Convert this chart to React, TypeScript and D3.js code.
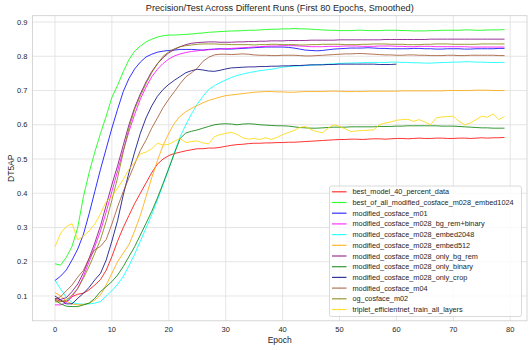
import * as d3 from "d3";
import React from "react";

// run names, in plotting order
const runs = [
  "best_model_40_percent_data",
  "best_of_all_modified_cosface_m028_embed1024",
  "modified_cosface_m01",
  "modified_cosface_m028_bg_rem+binary",
  "modified_cosface_m028_embed2048",
  "modified_cosface_m028_embed512",
  "modified_cosface_m028_only_bg_rem",
  "modified_cosface_m028_only_binary",
  "modified_cosface_m028_only_crop",
  "modified_cosface_m04",
  "og_cosface_m02",
  "triplet_efficientnet_train_all_layers",
];

const colors = [
  "red", "lime", "blue", "magenta", "cyan", "orange",
  "purple", "green", "navy", "sienna", "olive", "gold",
];

const xTicks = [0, 10, 20, 30, 40, 50, 60, 70, 80];
const yTicks = [0.1, 0.2, 0.3, 0.4, 0.5, 0.6, 0.7, 0.8, 0.9];

// smoothed DT5AP per epoch
const best40 = [
  0.09, 0.085, 0.084, 0.098, 0.105, 0.108, 0.118, 0.132, 0.148, 0.175,
  0.215, 0.26, 0.3, 0.335, 0.37, 0.4, 0.43, 0.46, 0.485, 0.5,
  0.51, 0.516, 0.52, 0.524, 0.527, 0.53, 0.53, 0.532, 0.532, 0.534,
  0.537, 0.54, 0.542, 0.543, 0.545, 0.546, 0.546, 0.547, 0.547, 0.548,
  0.548, 0.549, 0.549, 0.55, 0.551, 0.552, 0.553, 0.554, 0.555, 0.556,
  0.557, 0.557, 0.558, 0.558, 0.557, 0.558, 0.559, 0.559, 0.558, 0.559,
  0.56, 0.56, 0.559, 0.56, 0.561, 0.56, 0.56, 0.561, 0.561, 0.56,
  0.56, 0.561, 0.561, 0.56, 0.561, 0.562, 0.561, 0.562, 0.562, 0.563,
];
const bestOfAll = [
  0.194, 0.19, 0.213, 0.245, 0.3, 0.39, 0.46, 0.52, 0.575, 0.625,
  0.68, 0.715, 0.755, 0.79, 0.815, 0.83, 0.842, 0.85, 0.856, 0.86,
  0.862, 0.862, 0.863, 0.864, 0.865, 0.867, 0.868, 0.87, 0.871, 0.872,
  0.873, 0.874, 0.874, 0.875, 0.876, 0.876, 0.877, 0.878, 0.879, 0.879,
  0.88, 0.88, 0.881, 0.88, 0.88, 0.879, 0.878, 0.877, 0.876, 0.876,
  0.875, 0.875, 0.875, 0.876, 0.876, 0.875, 0.875, 0.875, 0.876, 0.876,
  0.876, 0.875, 0.875, 0.874, 0.874, 0.874, 0.875, 0.875, 0.876, 0.876,
  0.876, 0.876, 0.877, 0.877, 0.876, 0.876, 0.877, 0.877, 0.877, 0.878,
];
const m01 = [
  0.145, 0.158, 0.176, 0.205, 0.237, 0.28, 0.34, 0.405, 0.47, 0.53,
  0.59, 0.645, 0.697, 0.735, 0.763, 0.783, 0.798, 0.806, 0.812, 0.815,
  0.817, 0.818, 0.82, 0.82, 0.82, 0.819, 0.818, 0.82, 0.821, 0.822,
  0.821, 0.821, 0.822, 0.823, 0.824, 0.825, 0.826, 0.827, 0.827, 0.827,
  0.827, 0.826, 0.824, 0.821, 0.818, 0.817, 0.816, 0.817, 0.819, 0.821,
  0.822, 0.823, 0.824, 0.824, 0.824, 0.825, 0.824, 0.823, 0.823, 0.822,
  0.822, 0.822, 0.822, 0.823, 0.823, 0.822, 0.822, 0.821, 0.821, 0.822,
  0.822, 0.822, 0.821, 0.821, 0.822, 0.822, 0.822, 0.822, 0.823, 0.823,
];
const bgRemBinary = [
  0.074, 0.074, 0.08, 0.098, 0.122, 0.157, 0.2, 0.244, 0.29, 0.345,
  0.405, 0.465, 0.525, 0.58, 0.63, 0.675, 0.71, 0.74, 0.762, 0.779,
  0.792, 0.801, 0.807, 0.811, 0.814, 0.816, 0.818, 0.819, 0.82, 0.821,
  0.822, 0.823, 0.824, 0.825, 0.826, 0.827, 0.828, 0.829, 0.83, 0.83,
  0.831, 0.831, 0.831, 0.83, 0.829, 0.828, 0.828, 0.828, 0.829, 0.829,
  0.829, 0.83, 0.83, 0.83, 0.829, 0.829, 0.829, 0.83, 0.83, 0.83,
  0.829, 0.829, 0.828, 0.828, 0.829, 0.829, 0.829, 0.828, 0.828, 0.828,
  0.828, 0.828, 0.828, 0.827, 0.827, 0.827, 0.827, 0.827, 0.827, 0.827,
];
const embed2048 = [
  0.146, 0.12, 0.096, 0.081, 0.077, 0.076, 0.077, 0.079, 0.084, 0.1,
  0.115, 0.134, 0.157, 0.188, 0.222, 0.26, 0.298, 0.337, 0.38, 0.425,
  0.47, 0.52, 0.565, 0.6, 0.632, 0.66, 0.683, 0.703, 0.714, 0.723,
  0.731, 0.738, 0.744, 0.748, 0.752, 0.755, 0.758, 0.76, 0.762, 0.765,
  0.768, 0.77, 0.771, 0.772, 0.773, 0.774, 0.775, 0.776, 0.777, 0.778,
  0.779, 0.78, 0.78, 0.781, 0.781, 0.782, 0.782, 0.782, 0.782, 0.783,
  0.783, 0.782, 0.782, 0.781, 0.781, 0.78, 0.78, 0.781, 0.782, 0.782,
  0.783, 0.783, 0.784, 0.784, 0.783, 0.783, 0.782, 0.782, 0.782, 0.782,
];
const embed512 = [
  0.11, 0.1, 0.085, 0.077, 0.074, 0.075, 0.079, 0.088, 0.103, 0.132,
  0.166, 0.2, 0.225, 0.25, 0.29, 0.335, 0.39, 0.445, 0.495, 0.54,
  0.575, 0.605, 0.625, 0.638, 0.648, 0.656, 0.664, 0.671, 0.676, 0.681,
  0.685, 0.687, 0.689, 0.691, 0.693, 0.695, 0.696, 0.697, 0.697, 0.696,
  0.696, 0.695, 0.695, 0.696, 0.697, 0.697, 0.697, 0.697, 0.698, 0.698,
  0.698, 0.697, 0.697, 0.697, 0.697, 0.698, 0.698, 0.698, 0.698, 0.698,
  0.698, 0.699, 0.699, 0.699, 0.699, 0.699, 0.699, 0.699, 0.699, 0.7,
  0.7, 0.7, 0.7, 0.7, 0.701, 0.701, 0.701, 0.7, 0.7, 0.7,
];
const onlyBgRem = [
  0.093, 0.09, 0.095, 0.113, 0.135, 0.168, 0.21, 0.255, 0.305, 0.365,
  0.425, 0.48, 0.54, 0.6, 0.65, 0.69, 0.725, 0.755, 0.778, 0.796,
  0.81, 0.82, 0.828, 0.834, 0.838, 0.84, 0.841, 0.842, 0.842, 0.841,
  0.841, 0.841, 0.842, 0.842, 0.843, 0.843, 0.844, 0.844, 0.845, 0.845,
  0.845, 0.846, 0.846, 0.846, 0.846, 0.847, 0.847, 0.847, 0.847, 0.847,
  0.848, 0.848, 0.848, 0.848, 0.848, 0.848, 0.848, 0.848, 0.849, 0.849,
  0.849, 0.849, 0.849, 0.849, 0.849, 0.849, 0.85, 0.85, 0.85, 0.85,
  0.85, 0.85, 0.85, 0.85, 0.85, 0.85, 0.85, 0.85, 0.85, 0.85,
];
const onlyBinary = [
  0.088, 0.077, 0.07, 0.069, 0.069, 0.074, 0.079, 0.093, 0.113, 0.127,
  0.142, 0.161, 0.186, 0.215, 0.244, 0.278, 0.312, 0.347, 0.386, 0.429,
  0.473, 0.517, 0.56, 0.576, 0.581, 0.585, 0.59, 0.595, 0.6, 0.602,
  0.603, 0.602, 0.6, 0.602, 0.603, 0.602, 0.6, 0.599, 0.598, 0.597,
  0.597, 0.596, 0.594, 0.592, 0.591, 0.59, 0.59, 0.591, 0.592, 0.593,
  0.593, 0.593, 0.594, 0.594, 0.594, 0.594, 0.594, 0.595, 0.595, 0.595,
  0.596, 0.596, 0.597, 0.597, 0.597, 0.597, 0.597, 0.597, 0.596, 0.596,
  0.596, 0.595, 0.594, 0.593, 0.592, 0.591, 0.591, 0.59, 0.59, 0.59,
];
// this run stops at epoch 60
const onlyCrop = [
  0.1, 0.088, 0.077, 0.077, 0.093, 0.108, 0.125, 0.147, 0.166, 0.205,
  0.26, 0.32, 0.395, 0.46, 0.52, 0.575, 0.62, 0.655, 0.683, 0.703,
  0.718, 0.73, 0.741, 0.752, 0.758, 0.762, 0.76, 0.757, 0.756, 0.759,
  0.763, 0.766, 0.767, 0.768, 0.769, 0.769, 0.77, 0.77, 0.771, 0.771,
  0.772, 0.772, 0.773, 0.773, 0.774, 0.775, 0.775, 0.775, 0.776, 0.776,
  0.777, 0.777, 0.777, 0.777, 0.777, 0.777, 0.777, 0.776, 0.776, 0.776,
  0.777,
];
const m04 = [
  0.09, 0.098, 0.115, 0.132, 0.155, 0.175, 0.21, 0.235, 0.245, 0.265,
  0.31, 0.36, 0.405, 0.445, 0.485, 0.525, 0.555, 0.59, 0.62, 0.65,
  0.675, 0.697, 0.72, 0.74, 0.752, 0.765, 0.785, 0.797, 0.804, 0.806,
  0.806, 0.805, 0.806, 0.807, 0.806, 0.804, 0.803, 0.803, 0.802, 0.802,
  0.803, 0.803, 0.803, 0.802, 0.801, 0.801, 0.802, 0.803, 0.804, 0.805,
  0.806, 0.807, 0.807, 0.808, 0.808, 0.807, 0.806, 0.805, 0.804, 0.804,
  0.803, 0.803, 0.804, 0.804, 0.803, 0.803, 0.802, 0.802, 0.802, 0.803,
  0.803, 0.802, 0.802, 0.803, 0.803, 0.803, 0.803, 0.803, 0.802, 0.802,
];
const ogM02 = [
  0.083, 0.083, 0.088, 0.103, 0.122, 0.152, 0.186, 0.225, 0.265, 0.318,
  0.38, 0.445, 0.52, 0.59, 0.645, 0.685, 0.72, 0.752, 0.778, 0.8,
  0.813, 0.822, 0.828, 0.831, 0.833, 0.835, 0.836, 0.836, 0.836, 0.835,
  0.835, 0.834, 0.834, 0.834, 0.834, 0.833, 0.834, 0.834, 0.835, 0.835,
  0.834, 0.834, 0.834, 0.833, 0.833, 0.834, 0.834, 0.835, 0.835, 0.835,
  0.835, 0.834, 0.834, 0.834, 0.835, 0.835, 0.836, 0.836, 0.836, 0.835,
  0.835, 0.835, 0.834, 0.834, 0.834, 0.835, 0.835, 0.836, 0.836, 0.836,
  0.835, 0.835, 0.835, 0.835, 0.835, 0.836, 0.836, 0.836, 0.836, 0.836,
];
const triplet = [
  0.244, 0.283, 0.303, 0.311, 0.264, 0.275, 0.29, 0.31, 0.34, 0.376,
  0.39, 0.415, 0.44, 0.47, 0.49, 0.515, 0.52, 0.53, 0.546, 0.541,
  0.543, 0.552, 0.56, 0.548, 0.551, 0.553, 0.547, 0.544, 0.565, 0.571,
  0.575, 0.578, 0.572, 0.562, 0.558, 0.56, 0.557, 0.562, 0.557, 0.563,
  0.571, 0.577, 0.583, 0.592, 0.595, 0.586, 0.58, 0.577, 0.59, 0.6,
  0.595, 0.588, 0.58, 0.582, 0.583, 0.584, 0.585, 0.6, 0.605, 0.608,
  0.613, 0.615, 0.616, 0.61, 0.615, 0.608, 0.6, 0.62, 0.623, 0.624,
  0.625, 0.61, 0.6, 0.605, 0.615, 0.625, 0.622, 0.632, 0.615, 0.624,
];

const series = [
  best40, bestOfAll, m01, bgRemBinary, embed2048, embed512,
  onlyBgRem, onlyBinary, onlyCrop, m04, ogM02, triplet,
];

const W = 530;
const H = 350;
const left = 32.5, right = 527, top = 15.7, bottom = 320.8;
const font = "'Liberation Sans', Arial, sans-serif";
const ink = "#262626";

export default function App() {
  const x = d3.scaleLinear().domain([-3.95, 82.95]).range([left, right]);
  const y = d3.scaleLinear().domain([0.0275, 0.9185]).range([bottom, top]);
  const line = d3
    .line<number>()
    .x((_, i) => x(i))
    .y((d) => y(d));

  const legX = 329.5, legY = 186, legW = 192, legH = 130.5, rowH = 10.7;

  return (
    <svg
      width={W}
      height={H}
      style={{ position: "absolute", left: 0, top: 0, background: "#fff" }}
      fontFamily={font}
    >
      {/* grid */}
      {xTicks.map((t) => (
        <line key={"gx" + t} x1={x(t)} x2={x(t)} y1={top} y2={bottom} stroke="#dedede" strokeWidth={0.8} />
      ))}
      {yTicks.map((t) => (
        <line key={"gy" + t} x1={left} x2={right} y1={y(t)} y2={y(t)} stroke="#dedede" strokeWidth={0.8} />
      ))}
      <rect x={left} y={top} width={right - left} height={bottom - top} fill="none" stroke="#cccccc" strokeWidth={0.8} />

      {/* tick labels */}
      {xTicks.map((t) => (
        <text key={"tx" + t} x={x(t)} y={bottom + 11} fontSize={7.5} fill={ink} textAnchor="middle">
          {t}
        </text>
      ))}
      {yTicks.map((t) => (
        <text key={"ty" + t} x={left - 5} y={y(t) + 2.7} fontSize={7.5} fill={ink} textAnchor="end">
          {t.toFixed(1)}
        </text>
      ))}

      {/* lines */}
      <g clipPath="none">
        {series.map((s, i) => (
          <path key={runs[i]} d={line(s) || ""} fill="none" stroke={colors[i]} strokeWidth={1} strokeOpacity={0.8} />
        ))}
      </g>

      {/* labels */}
      <text x={(left + right) / 2} y={11} fontSize={9.2} fill={ink} textAnchor="middle">
        Precision/Test Across Different Runs (First 80 Epochs, Smoothed)
      </text>
      <text x={(left + right) / 2} y={343} fontSize={8.5} fill={ink} textAnchor="middle">
        Epoch
      </text>
      <text
        transform={`translate(14,${(top + bottom) / 2}) rotate(-90)`}
        fontSize={8.5}
        fill={ink}
        textAnchor="middle"
      >
        DT5AP
      </text>

      {/* legend */}
      <rect x={legX} y={legY} width={legW} height={legH} rx={2} fill="#fff" fillOpacity={0.8} stroke="#d0d0d0" strokeWidth={0.8} />
      {runs.map((r, i) => {
        const cy = legY + 5.8 + i * rowH;
        return (
          <g key={"lg" + r}>
            <line x1={legX + 2.5} x2={legX + 17} y1={cy} y2={cy} stroke={colors[i]} strokeWidth={1.2} strokeOpacity={0.8} />
            <text x={legX + 23} y={cy + 2.5} fontSize={7.3} fill={ink}>
              {r}
            </text>
          </g>
        );
      })}
    </svg>
  );
}
